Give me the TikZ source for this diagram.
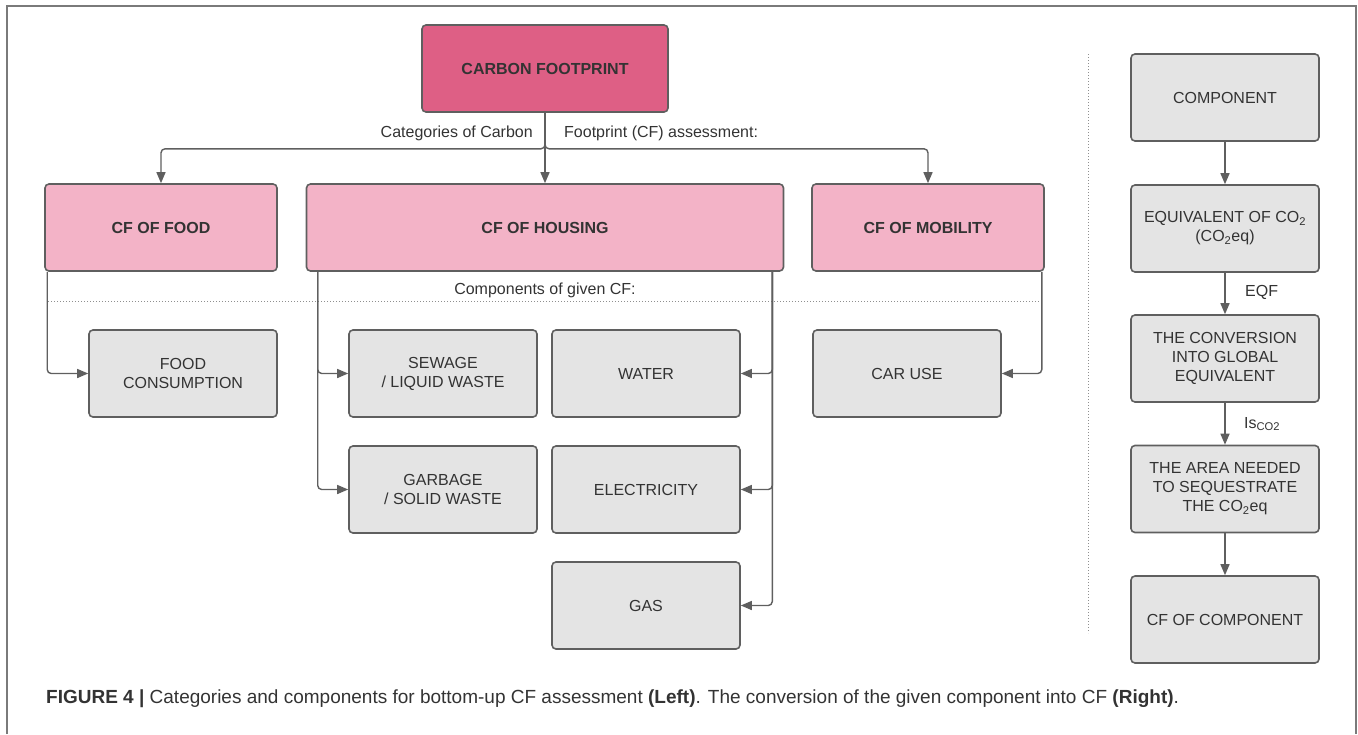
\documentclass[tikz,border=0pt]{standalone}
\usepackage{fontspec}
\setmainfont{Liberation Sans}
\usetikzlibrary{arrows.meta}
\definecolor{linec}{HTML}{5F5F5F}
\definecolor{framec}{HTML}{7A7A7A}
\definecolor{darkpink}{HTML}{DE5F85}
\definecolor{lightpink}{HTML}{F3B3C7}
\definecolor{grayfill}{HTML}{E4E4E4}
\definecolor{txt}{HTML}{333333}
\definecolor{dotc}{HTML}{8F8F8F}
\begin{document}
\begin{tikzpicture}[x=1pt,y=-1pt,
  box/.style={draw=linec, line width=1.6pt, rounded corners=4pt, minimum height=87pt,
    align=center, text=txt, font=\fontsize{16}{19}\selectfont, inner sep=2pt},
  topbox/.style={box, fill=darkpink, minimum width=246pt, font=\bfseries\fontsize{16}{19}\selectfont},
  cat/.style={box, fill=lightpink, minimum width=232pt, font=\bfseries\fontsize{16}{19}\selectfont},
  comp/.style={box, fill=grayfill, minimum width=188pt},
  conn/.style={draw=linec, line width=1.4pt, rounded corners=4pt, -{Triangle[length=11pt,width=9pt]}},
  lbl/.style={text=txt, font=\fontsize{16}{19}\selectfont, inner sep=0pt},
  sep/.style={draw=dotc, line width=1pt, dash pattern=on 1pt off 2pt}
]
\useasboundingbox (0,0) rectangle (1358,734);
\draw[framec, line width=1.5pt] (7,734) -- (7,6) -- (1356,6) -- (1356,734);

% top
\node[topbox] (cf) at (545,68.5) {CARBON FOOTPRINT};
% categories
\node[cat] (food) at (161,227.5) {CF OF FOOD};
\node[cat, minimum width=477pt] (housing) at (545,227.5) {CF OF HOUSING};
\node[cat] (mobility) at (928,227.5) {CF OF MOBILITY};

\node[lbl, anchor=east] (catl) at (533,133) {Categories of Carbon};
\node[lbl, anchor=west] (catr) at (564,133) {Footprint (CF) assessment:};

\draw[conn] (cf.south) -- ++(0,36) -| (food.north);
\draw[conn] (cf.south) -- (housing.north);
\draw[conn] (cf.south) -- ++(0,36) -| (mobility.north);

% components
\draw[sep] (48,301) -- (1040,301);
\node[lbl] (compl) at (545,290) {Components of given CF:};

\node[comp] (foodc) at (183,373.5) {FOOD\\CONSUMPTION};
\node[comp] (sewage) at (443,373.5) {SEWAGE\\/ LIQUID WASTE};
\node[comp] (garbage) at (443,489.5) {GARBAGE\\/ SOLID WASTE};
\node[comp] (water) at (646,373.5) {WATER};
\node[comp] (elec) at (646,489.5) {ELECTRICITY};
\node[comp] (gas) at (646,605.5) {GAS};
\node[comp] (car) at (907,373.5) {CAR USE};

\draw[conn] ([xshift=3pt]food.south west) |- (foodc.west);
\draw[conn] ([xshift=12pt]housing.south west) |- (sewage.west);
\draw[conn] ([xshift=12pt]housing.south west) |- (garbage.west);
\draw[conn] ([xshift=-12pt]housing.south east) |- (water.east);
\draw[conn] ([xshift=-12pt]housing.south east) |- (elec.east);
\draw[conn] ([xshift=-12pt]housing.south east) |- (gas.east);
\draw[conn] ([xshift=-3pt]mobility.south east) |- (car.east);

% separator
\draw[sep] (1088,54) -- (1088,633);

% right column
\node[comp] (r1) at (1225,97.5) {COMPONENT};
\node[comp] (r2) at (1225,228.5) {EQUIVALENT OF CO\textsubscript{2}\\(CO\textsubscript{2}eq)};
\node[comp] (r3) at (1225,358.5) {THE CONVERSION\\INTO GLOBAL\\EQUIVALENT};
\node[comp] (r4) at (1225,489) {THE AREA NEEDED\\TO SEQUESTRATE\\THE CO\textsubscript{2}eq};
\node[comp] (r5) at (1225,619.5) {CF OF COMPONENT};

\draw[conn] (r1) -- (r2);
\draw[conn] (r2) -- (r3);
\draw[conn] (r3) -- (r4);
\draw[conn] (r4) -- (r5);
\node[lbl, anchor=west] (eqf) at (1245,292) {EQF};
\node[lbl, anchor=west] (isco) at (1244,424) {Is\textsubscript{CO2}};

% caption
\node[anchor=west, inner sep=0pt, text=txt, font=\fontsize{19}{22}\selectfont] (cap) at (46,699)
 {\textbf{FIGURE 4 |} Categories and components for bottom-up CF assessment \textbf{(Left)}. The conversion of the given component into CF \textbf{(Right)}.};
\end{tikzpicture}
\end{document}
